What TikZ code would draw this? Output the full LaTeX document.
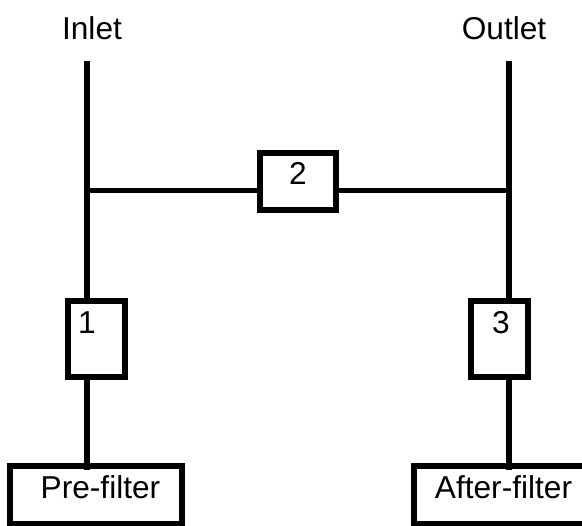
\documentclass[tikz,border=0pt]{standalone}
\usepackage{fontspec}
\setmainfont{Liberation Sans}
\usetikzlibrary{positioning}
\begin{document}
\begin{tikzpicture}[line width=1.1mm,
    filterbox/.style={rectangle,draw,fill=white,inner sep=0pt,line width=1.25mm},
    boxtext/.style={inner sep=0pt,font=\fontsize{18pt}{20pt}\selectfont}]
    \useasboundingbox (0,0) rectangle (11.64,-10.5);

    \coordinate (inlettop) at (1.74,-1.22);
    \coordinate (outlettop) at (10.18,-1.22);
    \coordinate (inletjoin) at (1.74,-3.81);
    \coordinate (outletjoin) at (10.18,-3.81);

    \node[filterbox,minimum width=1.14cm,minimum height=1.52cm] (box1) at (1.93,-6.78) {};
    \node[filterbox,minimum width=1.14cm,minimum height=1.52cm] (box3) at (9.99,-6.78) {};
    \node[filterbox,minimum width=1.52cm,minimum height=1.14cm] (box2) at (5.96,-3.63) {};
    \node[filterbox,minimum width=3.44cm,minimum height=1.16cm] (prefilter) at (1.92,-9.9) {};
    \node[filterbox,minimum width=3.46cm,minimum height=1.16cm] (afterfilter) at (10.01,-9.9) {};

    \draw (inlettop) -- (inletjoin);
    \draw (outlettop) -- (outletjoin);
    \draw (inletjoin) -- (inletjoin -| box2.west);
    \draw (outletjoin) -- (outletjoin -| box2.east);
    \draw (inletjoin) -- (inletjoin |- box1.north);
    \draw (outletjoin) -- (outletjoin |- box3.north);
    \draw (inletjoin |- box1.south) ++(0,0.1) -- ([yshift=-1.4mm]inletjoin |- prefilter.north);
    \draw (outletjoin |- box3.south) ++(0,0.1) -- ([yshift=-1.4mm]outletjoin |- prefilter.north);

    \node[boxtext] (inletlabel) at (1.84,-0.56) {Inlet};
    \node[boxtext] (outletlabel) at (10.08,-0.56) {Outlet};
    \node[boxtext] (num1) at (1.74,-6.45) {1};
    \node[boxtext] (num2) at (5.96,-3.46) {2};
    \node[boxtext] (num3) at (10.02,-6.45) {3};
    \node[boxtext] (pretext) at (2.01,-9.74) {Pre-filter};
    \node[boxtext] (aftertext) at (10.07,-9.74) {After-filter};
\end{tikzpicture}
\end{document}
